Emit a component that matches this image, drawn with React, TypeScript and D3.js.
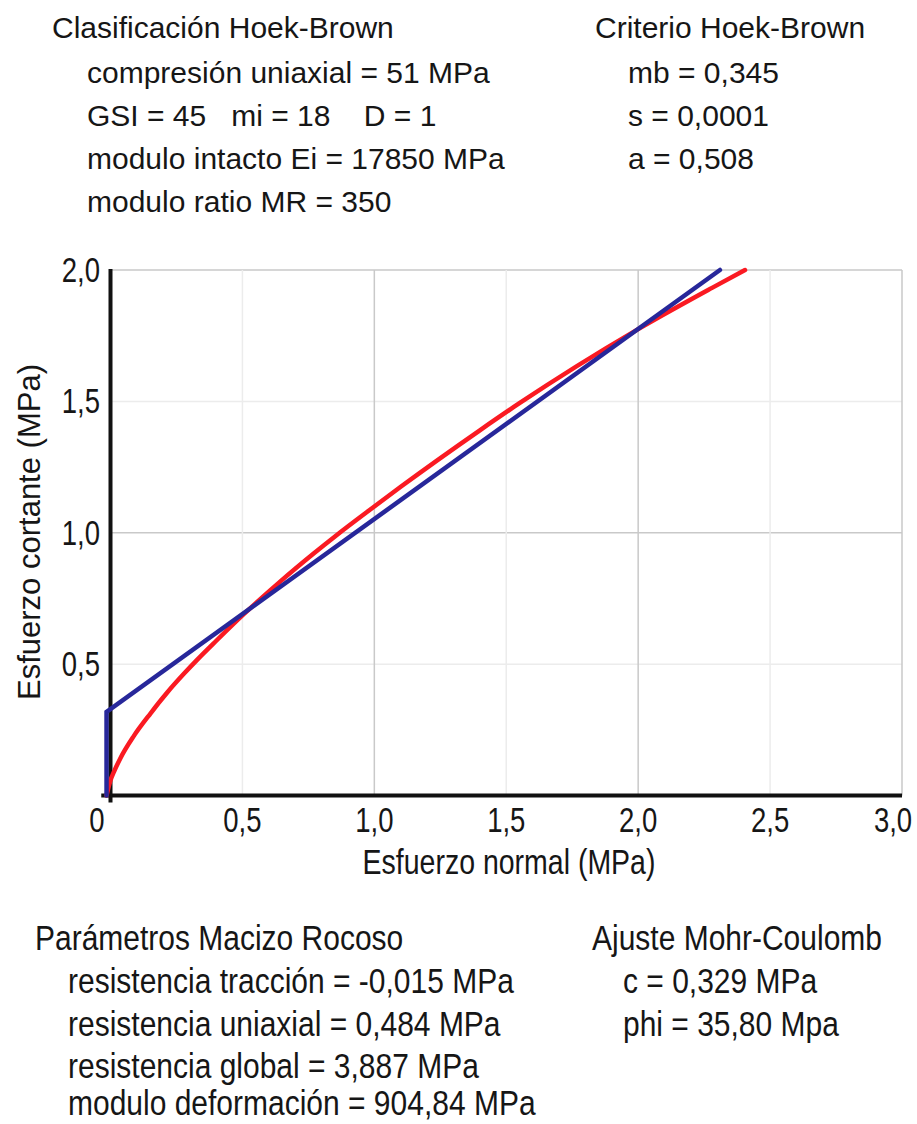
import React from "react";
import * as d3 from "d3";

// ---- Data ----
const mcSigma = [-0.015, -0.015, 2.31];
const mcTau = [0, 0.318, 2.0];

const hbSigma = [-0.015, 0.0, 0.013, 0.038, 0.088, 0.152, 0.215, 0.278, 0.33, 0.4, 0.505, 0.644, 0.77, 0.852, 1.0, 1.1, 1.4, 1.55, 2.0, 2.28, 2.405];
const hbTau = [0, 0.058, 0.09, 0.143, 0.226, 0.313, 0.392, 0.463, 0.518, 0.588, 0.69, 0.815, 0.921, 0.987, 1.1, 1.175, 1.39, 1.493, 1.775, 1.932, 2.0];

const xTicks = [0, 0.5, 1.0, 1.5, 2.0, 2.5, 3.0];
const xTickLabels = ["0", "0,5", "1,0", "1,5", "2,0", "2,5", "3,0"];
const yTicks = [0.5, 1.0, 1.5, 2.0];
const yTickLabels = ["0,5", "1,0", "1,5", "2,0"];

const topLeftTitle = "Clasificación Hoek-Brown";
const topLeftLines = [
  "compresión uniaxial = 51 MPa",
  "GSI = 45   mi = 18    D = 1",
  "modulo intacto Ei = 17850 MPa",
  "modulo ratio MR = 350",
];
const topRightTitle = "Criterio Hoek-Brown";
const topRightLines = ["mb = 0,345", "s = 0,0001", "a = 0,508"];
const botLeftTitle = "Parámetros Macizo Rocoso";
const botLeftLines = [
  "resistencia tracción = -0,015 MPa",
  "resistencia uniaxial = 0,484 MPa",
  "resistencia global = 3,887 MPa",
  "modulo deformación = 904,84 MPa",
];
const botRightTitle = "Ajuste Mohr-Coulomb";
const botRightLines = ["c = 0,329 MPa", "phi = 35,80 Mpa"];

const xLabel = "Esfuerzo normal (MPa)";
const yLabel = "Esfuerzo cortante (MPa)";

const FONT = "'Liberation Sans', Arial, Helvetica, sans-serif";

export default function App() {
  const W = 917;
  const H = 1124;
  const x0px = 110.5;
  const x3px = 902;
  const pxPerUnit = (x3px - x0px) / 3;
  const x = d3.scaleLinear().domain([-0.035, 3]).range([x0px - 0.035 * pxPerUnit, x3px]);
  const y = d3.scaleLinear().domain([0, 2]).range([795.5, 270]);

  const line = d3
    .line<[number, number]>()
    .x((d) => x(d[0]))
    .y((d) => y(d[1]));
  const curve = d3
    .line<[number, number]>()
    .x((d) => x(d[0]))
    .y((d) => y(d[1]))
    .curve(d3.curveMonotoneX);

  const mcPts = mcSigma.map((s, i) => [s, mcTau[i]] as [number, number]);
  const hbPts = hbSigma.map((s, i) => [s, hbTau[i]] as [number, number]);

  const isMajor = (v: number) => Math.abs(v - Math.round(v)) < 1e-6;

  const txt = (s: string, tx: number, ty: number, size: number, sy = 1, anchor = "start", key?: string) => (
    <text
      key={key ?? s}
      transform={`translate(${tx},${ty}) scale(1,${sy})`}
      fontSize={size}
      fontFamily={FONT}
      fill="#161616"
      textAnchor={anchor}
      style={{ whiteSpace: "pre" }}
    >
      {s}
    </text>
  );

  const topBase = [38, 83, 126, 169, 212];
  const botBase = [950, 993, 1036, 1078, 1115];

  return (
    <div style={{ position: "absolute", left: 0, top: 0 }}>
      <svg width={W} height={H} style={{ display: "block", background: "#fff" }}>
        {/* grid */}
        {yTicks.map((t) => (
          <line
            key={"gy" + t}
            x1={x(0)}
            x2={x(3)}
            y1={y(t)}
            y2={y(t)}
            stroke={isMajor(t) ? "#c9c9c9" : "#ececec"}
            strokeWidth={1.5}
          />
        ))}
        {xTicks.filter((t) => t > 0).map((t) => (
          <line
            key={"gx" + t}
            x1={x(t)}
            x2={x(t)}
            y1={y(2)}
            y2={y(0)}
            stroke={isMajor(t) ? "#c9c9c9" : "#ececec"}
            strokeWidth={1.5}
          />
        ))}
        {/* axes */}
        <line x1={x(-0.035)} x2={x(3)} y1={y(0)} y2={y(0)} stroke="#111" strokeWidth={4} />
        <line x1={x(0)} x2={x(0)} y1={y(2) - 1} y2={y(0) + 7} stroke="#111" strokeWidth={4} />

        {/* curves */}
        <path d={curve(hbPts) || ""} fill="none" stroke="#fa1a22" strokeWidth={4.5} strokeLinejoin="round" strokeLinecap="round" />
        <path d={line(mcPts) || ""} fill="none" stroke="#27279a" strokeWidth={4.5} strokeLinejoin="miter" strokeLinecap="round" />

        {/* tick labels */}
        {yTicks.map((t, i) => txt(yTickLabels[i], 100, y(t) + 12, 27.5, 1.28, "end", "yt" + t))}
        {xTicks.map((t, i) => {
          let cx = x(t);
          if (t === 0) cx = 97;
          if (t === 3) cx = 893;
          return txt(xTickLabels[i], cx, 832, 27.5, 1.28, "middle", "xt" + t);
        })}

        {/* axis titles */}
        {txt(xLabel, 509, 874, 28.5, 1.2, "middle", "xl")}
        <text
          transform={`translate(40,532) rotate(-90)`}
          fontSize={31}
          fontFamily={FONT}
          fill="#161616"
          textAnchor="middle"
        >
          {yLabel}
        </text>

        {/* info blocks */}
        {txt(topLeftTitle, 52, topBase[0], 30, 1, "start", "tlt")}
        {topLeftLines.map((s, i) => txt(s, 87, topBase[i + 1], 30, 1, "start", "tl" + i))}
        {txt(topRightTitle, 595, topBase[0], 30, 1, "start", "trt")}
        {topRightLines.map((s, i) => txt(s, 628, topBase[i + 1], 30, 1, "start", "tr" + i))}

        {txt(botLeftTitle, 35, botBase[0], 30, 1.15, "start", "blt")}
        {botLeftLines.map((s, i) => txt(s, 68, botBase[i + 1], 30, 1.15, "start", "bl" + i))}
        {txt(botRightTitle, 592, botBase[0], 30, 1.15, "start", "brt")}
        {botRightLines.map((s, i) => txt(s, 623, botBase[i + 1], 30, 1.15, "start", "br" + i))}
      </svg>
    </div>
  );
}
